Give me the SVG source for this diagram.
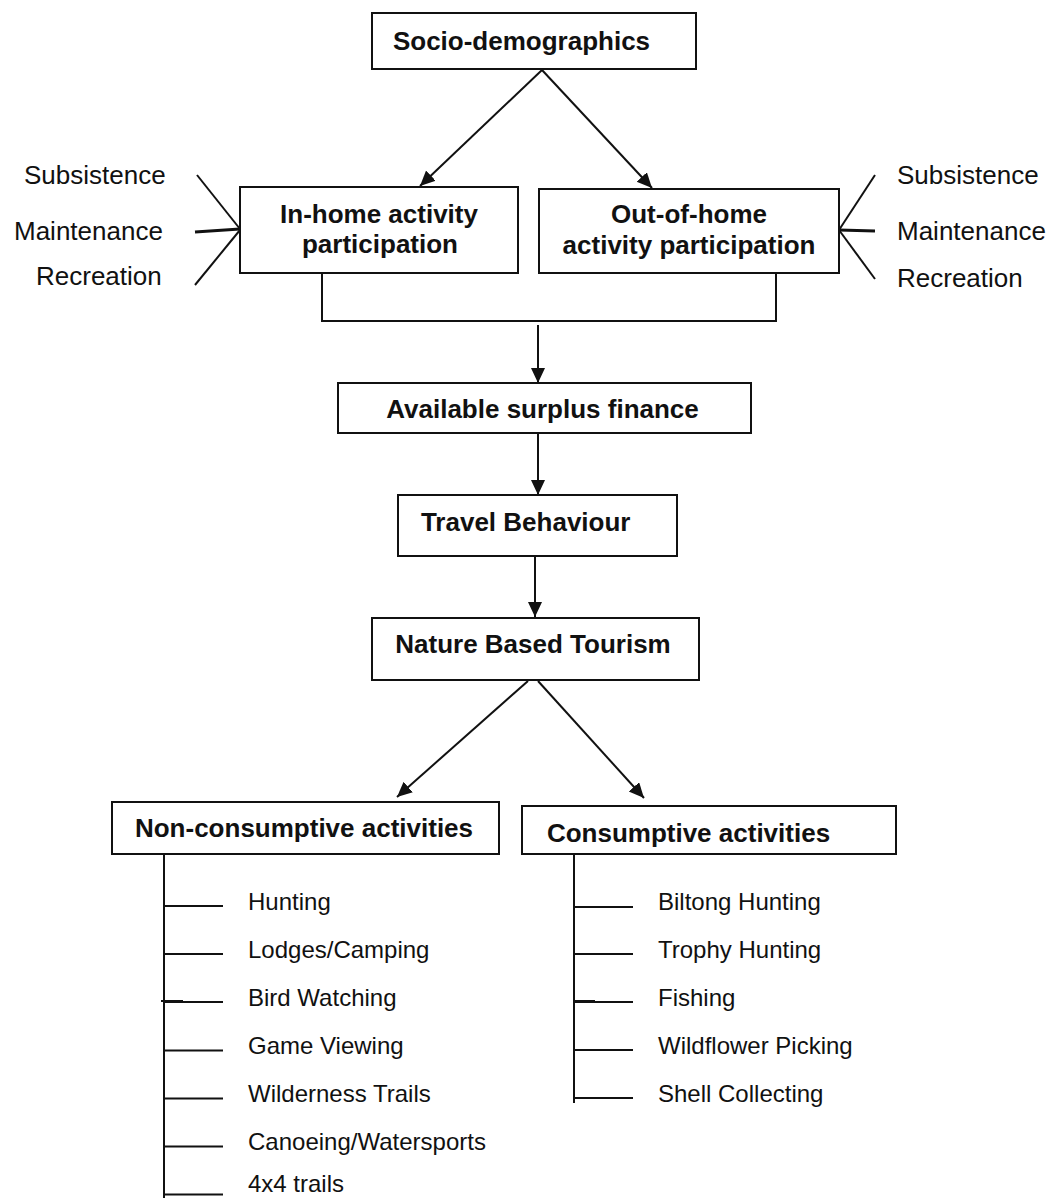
<svg xmlns="http://www.w3.org/2000/svg" width="1047" height="1198" viewBox="0 0 1047 1198">
<style>
.box{fill:#fff;stroke:#111;stroke-width:2}
.ln{fill:none;stroke:#111;stroke-width:2}
.arr{fill:none;stroke:#111;stroke-width:2;marker-end:url(#ah)}
.b{font-family:"Liberation Sans",Arial,sans-serif;font-weight:bold;font-size:26px;fill:#111;text-anchor:middle}
.r{font-family:"Liberation Sans",Arial,sans-serif;font-size:24px;fill:#111}
.s{font-family:"Liberation Sans",Arial,sans-serif;font-size:26px;fill:#111}
</style>
<defs>
<marker id="ah" markerUnits="userSpaceOnUse" markerWidth="16" markerHeight="16" refX="15" refY="7" orient="auto">
<path d="M0,0 L15,7 L0,14 z" fill="#111"/>
</marker>
</defs>
<rect width="1047" height="1198" fill="#fff"/>
<g id="connectors">
<line class="arr" x1="542" y1="70" x2="420" y2="186"/>
<line class="arr" x1="542" y1="70" x2="652" y2="188"/>
<line class="ln" x1="197" y1="175" x2="240" y2="229"/>
<line class="ln" x1="195" y1="232" x2="240" y2="229" style="stroke-width:3"/>
<line class="ln" x1="195" y1="285" x2="240" y2="230"/>
<line class="ln" x1="875" y1="175" x2="839" y2="230"/>
<line class="ln" x1="839" y1="230" x2="875" y2="231" style="stroke-width:3"/>
<line class="ln" x1="875" y1="279" x2="839" y2="230"/>
<polyline class="ln" points="322,273 322,321 776,321 776,273"/>
<line class="arr" x1="538" y1="325" x2="538" y2="383"/>
<line class="arr" x1="538" y1="433" x2="538" y2="495"/>
<line class="arr" x1="535" y1="556" x2="535" y2="617"/>
<line class="arr" x1="528" y1="681" x2="397" y2="797"/>
<line class="arr" x1="538" y1="681" x2="644" y2="798"/>
<line class="ln" x1="164" y1="854" x2="164" y2="1198"/>
<line class="ln" x1="164" y1="906" x2="223" y2="906"/>
<line class="ln" x1="164" y1="954" x2="223" y2="954"/>
<line class="ln" x1="164" y1="1002" x2="223" y2="1002"/>
<line class="ln" x1="161" y1="1001" x2="183" y2="1001"/>
<line class="ln" x1="164" y1="1050.5" x2="223" y2="1050.5"/>
<line class="ln" x1="164" y1="1098.5" x2="223" y2="1098.5"/>
<line class="ln" x1="164" y1="1146.5" x2="223" y2="1146.5"/>
<line class="ln" x1="164" y1="1194.5" x2="223" y2="1194.5"/>
<line class="ln" x1="574" y1="854" x2="574" y2="1103"/>
<line class="ln" x1="574" y1="907" x2="633" y2="907"/>
<line class="ln" x1="574" y1="954" x2="633" y2="954"/>
<line class="ln" x1="574" y1="1002" x2="633" y2="1002"/>
<line class="ln" x1="575" y1="1001" x2="595" y2="1001"/>
<line class="ln" x1="574" y1="1050" x2="633" y2="1050"/>
<line class="ln" x1="574" y1="1098" x2="633" y2="1098"/>
</g>
<g id="socio">
<rect class="box" x="372" y="13" width="324" height="56"/>
<text class="b" x="521.5" y="50">Socio-demographics</text>
</g>
<g id="inhome">
<rect class="box" x="240" y="187" width="278" height="86"/>
<text class="b" x="379" y="223">In-home activity</text>
<text class="b" x="380" y="253">participation</text>
</g>
<g id="outhome">
<rect class="box" x="539" y="189" width="300" height="84"/>
<text class="b" x="689" y="223">Out-of-home</text>
<text class="b" x="689" y="254">activity participation</text>
</g>
<g id="left-labels">
<text class="s" x="24" y="184">Subsistence</text>
<text class="s" x="14" y="240">Maintenance</text>
<text class="s" x="36" y="285">Recreation</text>
</g>
<g id="right-labels">
<text class="s" x="897" y="184">Subsistence</text>
<text class="s" x="897" y="240">Maintenance</text>
<text class="s" x="897" y="287">Recreation</text>
</g>
<g id="finance">
<rect class="box" x="338" y="383" width="413" height="50"/>
<text class="b" x="542.5" y="418">Available surplus finance</text>
</g>
<g id="travel">
<rect class="box" x="398" y="495" width="279" height="61"/>
<text class="b" x="525.7" y="531">Travel Behaviour</text>
</g>
<g id="nature">
<rect class="box" x="372" y="618" width="327" height="62"/>
<text class="b" x="533" y="653">Nature Based Tourism</text>
</g>
<g id="nonconsumptive">
<rect class="box" x="112" y="802" width="387" height="52"/>
<text class="b" x="304" y="837">Non-consumptive activities</text>
</g>
<g id="consumptive">
<rect class="box" x="522" y="806" width="374" height="48"/>
<text class="b" x="688.5" y="842">Consumptive activities</text>
</g>
<g id="nonconsumptive-items">
<text class="r" x="248" y="910">Hunting</text>
<text class="r" x="248" y="958">Lodges/Camping</text>
<text class="r" x="248" y="1006">Bird Watching</text>
<text class="r" x="248" y="1054">Game Viewing</text>
<text class="r" x="248" y="1102">Wilderness Trails</text>
<text class="r" x="248" y="1150">Canoeing/Watersports</text>
<text class="r" x="248" y="1192">4x4 trails</text>
</g>
<g id="consumptive-items">
<text class="r" x="658" y="910">Biltong Hunting</text>
<text class="r" x="658" y="958">Trophy Hunting</text>
<text class="r" x="658" y="1006">Fishing</text>
<text class="r" x="658" y="1054">Wildflower Picking</text>
<text class="r" x="658" y="1102">Shell Collecting</text>
</g>
</svg>
